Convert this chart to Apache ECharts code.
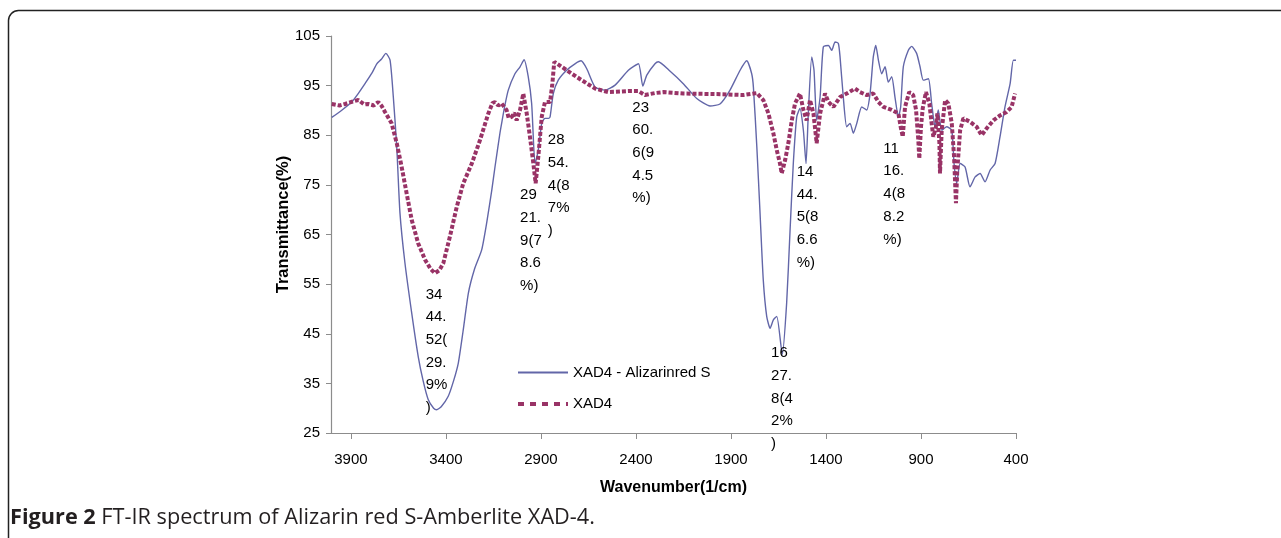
<!DOCTYPE html>
<html>
<head>
<meta charset="utf-8">
<script src="https://cdn.jsdelivr.net/npm/echarts@6/dist/echarts.min.js"></script>
<style>html,body{margin:0;padding:0;background:#fff;}#c{width:1281px;height:538px;}</style>
</head>
<body>
<div id="c"></div>
<script>
// X tick labels (wavenumber) and Y tick labels (transmittance)
const xTicks = [400, 900, 1400, 1900, 2400, 2900, 3400, 3900];
const yTicks = [25, 35, 45, 55, 65, 75, 85, 95, 105];

// Series 1: XAD4 - Alizarinred S
const blueWn = [4001,3950,3896,3860,3826,3790,3764,3740,3716,3694,3677,3659,3642,3616,3580,3546,3520,3493,3465,3449,3425,3388,3360,3335,3310,3282,3250,3212,3185,3159,3142,3116,3107,3090,3072,3037,3010,2989,2967,2949,2931,2914,2896,2879,2860,2852,2835,2809,2765,2721,2689,2659,2615,2563,2510,2440,2387,2364,2343,2300,2282,2226,2151,2080,2010,1958,1905,1852,1817,1791,1782,1764,1747,1730,1712,1694,1677,1659,1630,1607,1589,1572,1554,1537,1519,1505,1493,1475,1463,1449,1431,1414,1387,1370,1352,1335,1326,1309,1291,1273,1256,1238,1212,1186,1168,1151,1138,1124,1107,1089,1072,1054,1037,1019,1007,993,967,949,923,905,888,861,844,826,809,791,765,738,726,712,694,668,642,615,589,563,536,510,484,458,431,414,400];
const blueT = [88.6,90.0,91.7,93.5,95.4,97.5,99.4,100.3,101.5,100.1,92.7,82.7,69.3,59.3,49.1,40.4,35.5,31.7,30.0,29.7,30.3,32.4,35.5,39.1,45.5,53.2,58.0,61.9,67.5,73.9,78.6,85.4,87.4,91.0,94.1,97.4,98.8,100.2,96.8,91.4,79.3,82.0,87.4,88.4,88.4,88.7,93.4,96.1,98.1,99.4,100.0,98.4,94.7,94.1,95.1,98.1,99.4,94.9,97.1,99.4,99.8,98.1,95.4,92.4,90.9,91.3,94.1,98.1,100.0,97.4,94.7,82.7,69.3,55.8,48.5,46.1,47.8,48.5,40.8,51.2,65.9,79.3,88.7,90.4,86.0,79.3,89.4,100.8,98.1,88.0,92.7,102.8,103.1,102.1,103.8,103.5,100.8,92.7,86.7,87.4,85.4,87.4,90.7,90.1,93.4,100.8,103.1,100.1,97.4,98.8,95.7,96.8,92.7,88.7,90.7,98.8,102.1,102.9,101.5,98.8,96.1,96.4,91.4,86.7,90.1,86.0,86.7,86.0,79.3,75.3,79.3,78.6,74.6,76.6,77.3,75.6,78.0,79.3,84.7,90.7,95.4,100.1,100.1];

// Series 2: XAD4
const redWn = [4001,3960,3931,3890,3861,3830,3809,3780,3756,3740,3721,3686,3659,3633,3607,3580,3546,3510,3480,3458,3435,3414,3379,3343,3309,3264,3221,3177,3155,3142,3125,3107,3081,3070,3054,3040,3028,3010,2993,2975,2958,2940,2928,2914,2896,2879,2852,2840,2830,2791,2738,2686,2615,2545,2440,2387,2353,2300,2255,2151,1975,1835,1764,1730,1703,1677,1659,1642,1633,1615,1598,1580,1563,1537,1519,1502,1484,1466,1449,1431,1405,1387,1361,1326,1291,1247,1221,1186,1151,1124,1098,1054,1019,1007,996,984,962,941,926,914,909,900,891,874,856,844,835,821,814,803,800,791,773,756,738,726,716,709,694,677,642,607,581,554,519,484,449,423,405];
const redT = [91.3,91.0,91.3,91.8,92.1,91.2,91.3,91.0,91.7,91.0,89.7,87.4,83.4,78.6,73.3,67.9,63.2,59.9,58.0,57.2,57.8,59.2,64.6,70.6,75.3,79.3,84.0,89.4,91.5,91.7,91.0,91.4,90.1,88.5,88.7,89.5,88.0,90.1,93.4,89.4,84.7,79.3,75.3,80.7,88.7,91.7,91.7,95.4,99.8,98.8,97.4,96.1,94.4,93.7,93.9,93.9,93.1,93.5,93.7,93.4,93.3,93.1,93.5,92.1,89.4,85.4,82.0,79.3,77.3,80.0,83.4,88.0,91.4,93.4,90.1,88.0,92.1,89.4,83.4,89.4,93.4,91.7,90.7,92.7,93.4,94.4,93.7,93.1,93.4,91.7,90.7,90.1,89.4,86.7,84.7,90.7,93.7,93.1,90.1,84.0,80.3,86.7,90.4,93.7,91.4,87.4,84.7,86.7,89.4,83.4,77.3,86.0,92.1,91.4,87.4,80.7,71.3,78.0,86.0,88.4,87.7,86.7,85.0,86.4,88.0,89.0,89.7,90.7,93.4];

// Peak annotations (text as in the figure, anchored at wavenumber / transmittance)
const noteText = ["34\n44.\n52(\n29.\n9%\n)", "29\n21.\n9(7\n8.6\n%)", "28\n54.\n4(8\n7%\n)", "23\n60.\n6(9\n4.5\n%)", "14\n44.\n5(8\n6.6\n%)", "11\n16.\n4(8\n8.2\n%)", "16\n27.\n8(4\n2%\n)"];
const noteWn = [3507, 3010, 2864, 2419, 1554, 1098, 1689];
const noteT = [55.2, 75.2, 86.3, 92.9, 79.9, 84.6, 43.4];

const seriesNames = ["XAD4 - Alizarinred S", "XAD4"];

const blueData = blueWn.map((w, i) => [w, blueT[i]]);
const redData = redWn.map((w, i) => [w, redT[i]]);
const notes = noteText.map((t, i) => ({ name: t, coord: [noteWn[i], noteT[i]] }));

const chart = echarts.init(document.getElementById('c'), null, { renderer: 'canvas' });
const FONT = '"Liberation Sans", Arial, sans-serif';
const CAP_FONT = '"Open Sans", "Liberation Sans", sans-serif';
const hidden = { color: 'rgba(0,0,0,0)', borderWidth: 0, opacity: 0 };
chart.setOption({
  animation: false,
  backgroundColor: '#fff',
  textStyle: { fontFamily: FONT },
  title: {
    text: '{b|Figure 2} FT-IR spectrum of Alizarin red S-Amberlite XAD-4.',
    left: 10, top: 507, padding: 0,
    textStyle: {
      fontFamily: CAP_FONT, fontSize: 21.7, fontWeight: 'normal', color: '#231f20',
      rich: { b: { fontFamily: CAP_FONT, fontSize: 21.7, fontWeight: 'bold', color: '#231f20' } }
    }
  },
  graphic: [{
    type: 'rect', silent: true, z: -1,
    shape: { x: 8.5, y: 10.5, width: 1320, height: 620, r: 10 },
    style: { fill: 'none', stroke: '#222', lineWidth: 1.5 }
  }],
  legend: {
    orient: 'vertical', left: 516, top: 365, padding: 0,
    itemWidth: 50, itemHeight: 14, itemGap: 16.4,
    textStyle: { fontSize: 15, color: '#000', fontFamily: FONT },
    data: [
      { name: seriesNames[0], itemStyle: hidden },
      { name: seriesNames[1], itemStyle: hidden, lineStyle: { type: [6, 6], width: 4 } }
    ]
  },
  grid: { left: 331, right: 265, top: 36, bottom: 105 },
  xAxis: {
    type: 'value', inverse: true, min: 400, max: 4005,
    name: 'Wavenumber(1/cm)', nameLocation: 'middle', nameGap: 47,
    nameTextStyle: { fontSize: 16, fontWeight: 'bold', color: '#000', fontFamily: FONT },
    axisLine: { lineStyle: { color: '#8c8c8c', width: 1.2 } },
    axisTick: { show: true, length: 6, lineStyle: { color: '#8c8c8c' }, customValues: xTicks },
    axisLabel: { fontSize: 15, color: '#000', margin: 19, customValues: xTicks, formatter: v => String(v) },
    splitLine: { show: false }
  },
  yAxis: {
    type: 'value', min: 25, max: 105,
    name: 'Transmittance(%)', nameLocation: 'middle', nameGap: 39, nameMoveOverlap: false,
    nameTextStyle: { fontSize: 16.5, fontWeight: 'bold', color: '#000', fontFamily: FONT, padding: [0, 0, 0, 20] },
    axisLine: { show: true, lineStyle: { color: '#8c8c8c', width: 1.2 } },
    axisTick: { show: true, length: 5, lineStyle: { color: '#8c8c8c' }, customValues: yTicks },
    axisLabel: { fontSize: 15, color: '#000', margin: 11, customValues: yTicks, formatter: v => String(v) },
    splitLine: { show: false }
  },
  series: [
    {
      name: seriesNames[0], type: 'line', data: blueData, symbol: 'none', smooth: 0.2,
      lineStyle: { color: '#6266a8', width: 1.4 }, itemStyle: { color: '#6266a8' }, z: 2,
      markPoint: {
        symbol: 'rect', symbolSize: 0, silent: true,
        data: notes,
        label: {
          show: true, position: [0, 0], align: 'left', verticalAlign: 'top',
          formatter: p => p.name, fontSize: 15, lineHeight: 22.7, color: '#000', fontFamily: FONT
        }
      }
    },
    {
      name: seriesNames[1], type: 'line', data: redData, symbol: 'none',
      lineStyle: { color: '#993366', width: 4, type: [4, 2] }, itemStyle: { color: '#993366' }, z: 3
    }
  ]
});
</script>
</body>
</html>
